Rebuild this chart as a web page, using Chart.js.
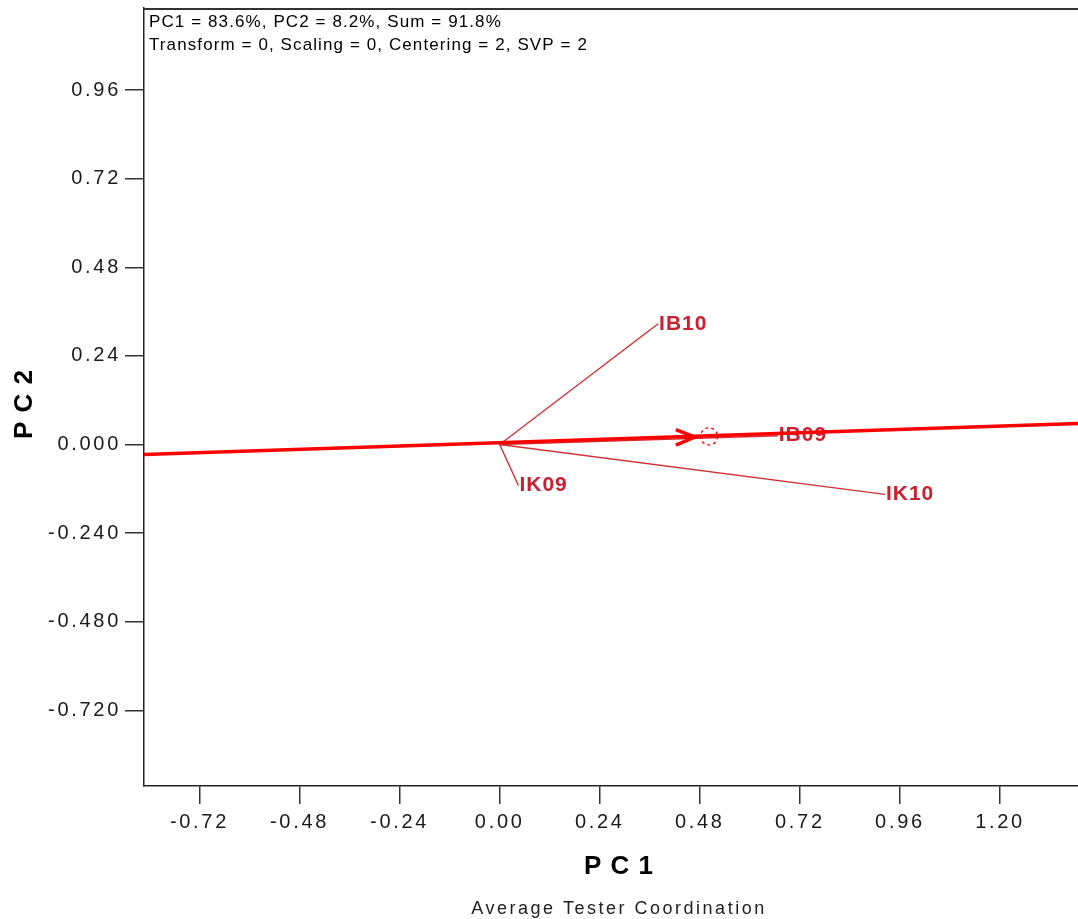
<!DOCTYPE html>
<html>
<head>
<meta charset="utf-8">
<script src="https://cdn.jsdelivr.net/npm/chart.js@4.4.0/dist/chart.umd.min.js"></script>
<style>
  html, body { margin: 0; padding: 0; background: #fff; overflow: hidden; }
  canvas { display: block; }
</style>
</head>
<body>
<canvas id="gge" width="1078" height="919"></canvas>
<script>
// environment vectors (PC1, PC2)
var envNames = ['IB10', 'IB09', 'IK09', 'IK10'];
var envPC1 = [0.380, 0.667, 0.045, 0.924];
var envPC2 = [0.327, 0.024, -0.111, -0.135];

// average tester axis, drawn across the whole plot
var ateAxisPC1 = [-0.853, 1.387];
var ateAxisPC2 = [-0.027, 0.057];

// arrow tip and average environment circle
var arrowTip = [0.468, 0.020];
var avgEnv = [0.502, 0.022];

var xTickValues = [-0.72, -0.48, -0.24, 0.00, 0.24, 0.48, 0.72, 0.96, 1.20];
var xTickLabels = ['-0.72', '-0.48', '-0.24', '0.00', '0.24', '0.48', '0.72', '0.96', '1.20'];
var yTickValues = [0.96, 0.72, 0.48, 0.24, 0.00, -0.24, -0.48, -0.72];
var yTickLabels = ['0.96', '0.72', '0.48', '0.24', '0.000', '-0.240', '-0.480', '-0.720'];

var xRange = [-0.853, 1.387];
var yRange = [-0.9245, 1.182];

var FONT = '"Liberation Sans", Arial, sans-serif';
var RED = '#ff0000';
var VEC = '#d03034';
var LABEL = '#cc2030';

var datasets = [];
datasets.push({
    data: [{ x: ateAxisPC1[0], y: ateAxisPC2[0] }, { x: ateAxisPC1[1], y: ateAxisPC2[1] }],
    showLine: true,
    borderColor: RED,
    borderWidth: 3.5,
    pointRadius: 0
});
for (var i = 0; i < envNames.length; i++) {
    datasets.push({
        label: envNames[i],
        data: [{ x: 0, y: 0 }, { x: envPC1[i], y: envPC2[i] }],
        showLine: true,
        borderColor: VEC,
        borderWidth: 1.4,
        pointRadius: 0
    });
}

var extras = {
    id: 'extras',
    beforeDraw: function (chart) {
        chart.ctx.letterSpacing = '2.7px';
    },
    beforeDatasetsDraw: function (chart) {
        // labels go under the lines, like in the original plot
        var ctx = chart.ctx;
        var xs = chart.scales.x, ys = chart.scales.y;
        ctx.save();
        ctx.letterSpacing = '1px';
        ctx.font = 'bold 21px ' + FONT;
        ctx.fillStyle = LABEL;
        ctx.textAlign = 'left';
        ctx.textBaseline = 'middle';
        for (var i = 0; i < envNames.length; i++) {
            ctx.fillText(envNames[i], xs.getPixelForValue(envPC1[i]) + 1, ys.getPixelForValue(envPC2[i]));
        }
        ctx.restore();
    },
    afterDatasetsDraw: function (chart) {
        var ctx = chart.ctx;
        var xs = chart.scales.x, ys = chart.scales.y;
        ctx.save();
        // arrow head
        var tx = xs.getPixelForValue(arrowTip[0]);
        var ty = ys.getPixelForValue(arrowTip[1]);
        ctx.strokeStyle = RED;
        ctx.lineWidth = 3.5;
        ctx.beginPath();
        ctx.moveTo(tx - 19, ty - 7.5);
        ctx.lineTo(tx, ty);
        ctx.lineTo(tx - 19, ty + 8);
        ctx.stroke();
        // average environment
        ctx.lineWidth = 1.3;
        ctx.setLineDash([3, 3]);
        ctx.beginPath();
        ctx.arc(xs.getPixelForValue(avgEnv[0]), ys.getPixelForValue(avgEnv[1]), 8.5, 0, Math.PI * 2);
        ctx.stroke();
        ctx.setLineDash([]);
        ctx.restore();
    },
    afterDraw: function (chart) {
        var ctx = chart.ctx;
        var a = chart.chartArea;
        ctx.save();
        // top frame line
        ctx.strokeStyle = '#333';
        ctx.lineWidth = 2;
        ctx.beginPath();
        ctx.moveTo(a.left - 0.75, a.top + 1);
        ctx.lineTo(a.right, a.top + 1);
        ctx.stroke();

        ctx.fillStyle = '#000';
        ctx.textAlign = 'left';
        ctx.textBaseline = 'middle';
        ctx.letterSpacing = '1.1px';
        ctx.font = '17px ' + FONT;
        ctx.fillText('PC1 = 83.6%, PC2 = 8.2%, Sum = 91.8%', a.left + 5, a.top + 14);
        ctx.fillText('Transform = 0, Scaling = 0, Centering = 2, SVP = 2', a.left + 5, a.top + 37);

        ctx.textAlign = 'center';
        ctx.letterSpacing = '1px';
        ctx.font = 'bold 26px ' + FONT;
        ctx.fillText('P C 1', 619, 867);
        ctx.save();
        ctx.translate(25, 404);
        ctx.rotate(-Math.PI / 2);
        ctx.fillText('P C 2', 0, 0);
        ctx.restore();

        ctx.letterSpacing = '2.5px';
        ctx.font = '18px ' + FONT;
        ctx.fillStyle = '#222';
        ctx.fillText('Average Tester Coordination', 619, 909);
        ctx.restore();
    }
};

new Chart(document.getElementById('gge').getContext('2d'), {
    type: 'scatter',
    data: { datasets: datasets },
    plugins: [extras],
    options: {
        responsive: false,
        devicePixelRatio: 1,
        animation: false,
        events: [],
        layout: { padding: { top: 8, right: 0, left: 0, bottom: 0 } },
        plugins: { legend: { display: false }, tooltip: { enabled: false } },
        scales: {
            x: {
                type: 'linear',
                min: xRange[0],
                max: xRange[1],
                afterBuildTicks: function (scale) {
                    scale.ticks = xTickValues.map(function (v) { return { value: v }; });
                },
                afterFit: function (scale) {
                    scale.height = 133;
                    scale.paddingLeft = 0;
                    scale.paddingRight = 0;
                },
                grid: { drawOnChartArea: false, drawTicks: true, tickLength: 18, color: '#333', lineWidth: 1.5 },
                border: { display: true, color: '#222', width: 1.5 },
                ticks: {
                    autoSkip: false,
                    maxRotation: 0,
                    padding: 6,
                    color: '#1a1a1a',
                    font: { family: FONT, size: 20 },
                    callback: function (v, idx) { return xTickLabels[idx]; }
                }
            },
            y: {
                type: 'linear',
                min: yRange[0],
                max: yRange[1],
                afterBuildTicks: function (scale) {
                    scale.ticks = yTickValues.map(function (v) { return { value: v }; });
                },
                afterFit: function (scale) {
                    scale.width = 144;
                    scale.paddingTop = 0;
                    scale.paddingBottom = 0;
                },
                grid: { drawOnChartArea: false, drawTicks: true, tickLength: 19, color: '#333', lineWidth: 1.5 },
                border: { display: true, color: '#222', width: 1.5 },
                ticks: {
                    autoSkip: false,
                    padding: 4,
                    color: '#1a1a1a',
                    font: { family: FONT, size: 20 },
                    callback: function (v, idx) { return yTickLabels[idx]; }
                }
            }
        }
    }
});
</script>
</body>
</html>
